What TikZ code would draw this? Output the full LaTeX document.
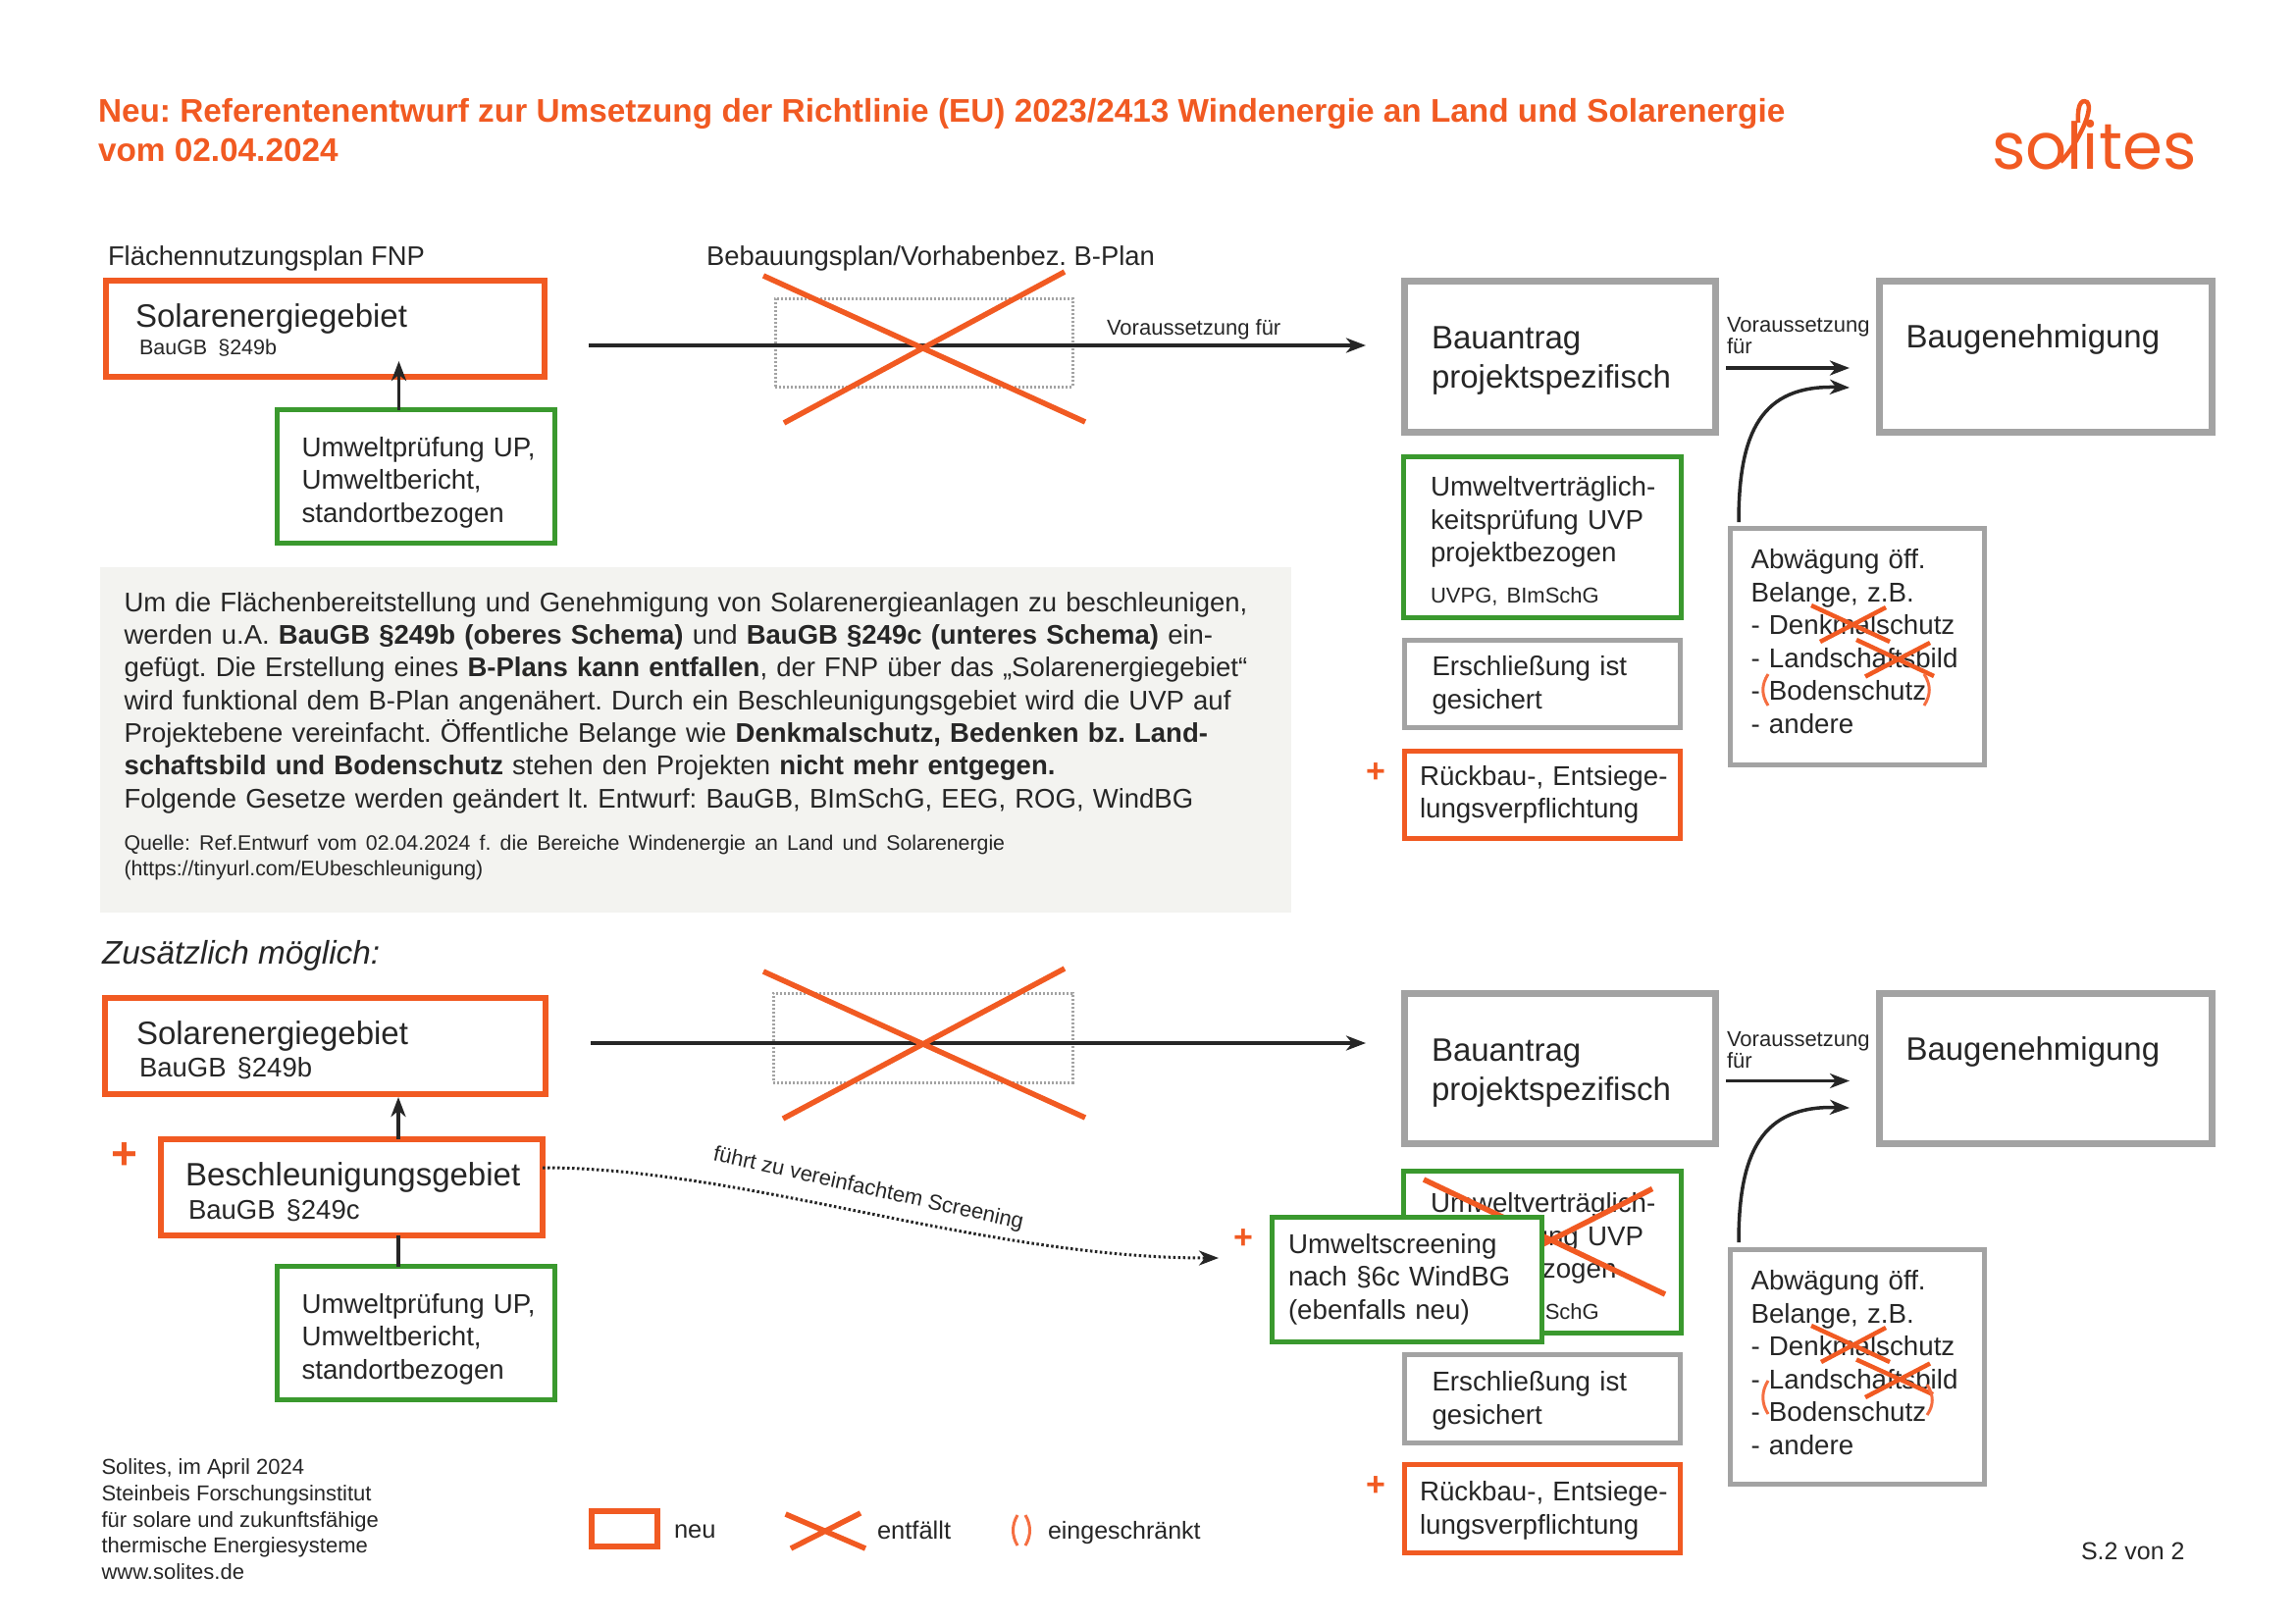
\documentclass[tikz,border=0pt]{standalone}
\usepackage{fontspec}
\usepackage{xcolor}
\usepackage{tikz}
\usetikzlibrary{positioning, arrows.meta}
\setmainfont{Liberation Sans}
\newfontfamily\logofont{Poppins}
\definecolor{neworange}{RGB}{241,90,34}
\definecolor{lightorange}{RGB}{245,110,65}
\definecolor{envgreen}{RGB}{58,153,46}
\definecolor{boxgray}{RGB}{163,163,163}
\definecolor{panelgray}{RGB}{243,243,240}
\definecolor{ink}{RGB}{38,38,38}
\frenchspacing

\begin{document}
\begin{tikzpicture}[x=1pt, y=-1pt, every node/.style={inner sep=0pt, outer sep=0pt, text=ink},
  dim/.style n args={4}{minimum width=#1, minimum height=#2, text width=#1, align=left, anchor=north west,
    execute at begin node={\leftskip=#3pt\relax},
    execute at end node={\endgraf\kern -#4pt\relax}},
  newbox/.style={draw=neworange, line width=6pt, font=\fontsize{33}{39}\selectfont},
  thinnew/.style={draw=neworange, line width=5pt, font=\fontsize{27.7}{33.5}\selectfont},
  envbox/.style={draw=envgreen, line width=5pt, font=\fontsize{27.7}{33.5}\selectfont},
  graybox/.style={draw=boxgray, line width=5pt, font=\fontsize{27.7}{33.5}\selectfont},
  bigbox/.style={draw=boxgray, line width=7pt, font=\fontsize{33}{40}\selectfont},
  ann/.style={anchor=base west, font=\fontsize{22}{22}\selectfont},
  head/.style={anchor=base west, font=\fontsize{27.4}{34}\selectfont},
  plus/.style={anchor=center, text=neworange, font=\fontsize{34}{34}\bfseries\selectfont},
  arrow/.style={-{Stealth[length=20pt, width=15pt, inset=6pt]}, ink, line width=3.5pt},
  noway/.style={neworange, line width=5.5pt},
  strike/.style={neworange, line width=4.5pt},
  bracket/.style={lightorange, line width=3pt},
  planbox/.style={draw=boxgray, line width=3pt, dash pattern=on 2pt off 2pt}]
\useasboundingbox (0,0) rectangle (2339,1654);

\node[anchor=north west, align=left, text=neworange, font=\fontsize{33.35}{40}\bfseries\selectfont] (title) at (100,100)
  {Neu: Referentenentwurf zur Umsetzung der Richtlinie (EU) 2023/2413 Windenergie an Land und Solarenergie\\vom 02.04.2024};
\node[anchor=base west, text=neworange, font=\logofont\fontsize{66}{66}\selectfont] (logo) at (2030,172) {solites};
\draw[neworange, line width=4.5pt] (2100,165) .. controls (2115,150) and (2135,112) .. (2127,104) .. controls (2120,100) and (2117,110) .. (2118,125);

\node[head] (fnp) at (110,270) {Flächennutzungsplan FNP};
\node[head] (bplan) at (720,270) {Bebauungsplan/Vorhabenbez. B-Plan};

\node[newbox, dim={447}{98}{30}{2}] (sol1) at (108,286) {Solarenergiegebiet\\[-11pt]\hspace*{4pt}{\fontsize{21.5}{26}\selectfont BauGB §249b}};
\node[envbox, dim={283}{136}{25}{12}] (up1) at (282.5,417.5) {Umweltprüfung UP,\\Umweltbericht,\\standortbezogen};
\node[planbox, minimum width=303, minimum height=90, anchor=north west] (plan1) at (790,304) {};
\node[bigbox, dim={317}{154}{28}{9}] (bau1) at (1431,286) {Bauantrag\\projektspezifisch};
\node[bigbox, dim={339}{154}{27}{0}] (gen1) at (1915.5,286) {Baugenehmigung\\~};
\node[envbox, dim={283}{164}{28}{7.5}] (uvp1) at (1430,465.5) {Umweltverträglich-\\keitsprüfung UVP\\projektbezogen\\[8pt]{\fontsize{22}{26}\selectfont UVPG, BImSchG}};
\node[graybox, dim={281}{89}{28}{3}] (ers1) at (1431.5,652.5) {Erschließung ist\\gesichert};
\node[thinnew, dim={281}{89}{15.5}{0}] (rue1) at (1431.5,765.5) {Rückbau-, Entsiege-\\lungsverpflichtung};
\node[graybox, dim={259}{240.5}{21}{-10}] (abw1) at (1763.5,538.5) {Abwägung öff.\\Belange, z.B.\\- Denkmalschutz\\- Landschaftsbild\\- Bodenschutz\\- andere};
\node[plus] (plus1) at (1402,788) {+};

\coordinate (t1) at (406.5,368);
\coordinate (l1) at (940,352);
\coordinate (v1) at (1759,375);
\coordinate (c1) at (1772,532);
\coordinate (g1) at (1885,395);
\draw[arrow] (up1.north -| t1) -- (t1);
\draw[arrow, shorten <=45pt, shorten >=39pt] (sol1.east |- l1) -- (bau1.west |- l1);
\draw[arrow, shorten <=11pt, shorten >=30.5pt] (bau1.east |- v1) -- (gen1.west |- v1);
\draw[arrow] (c1) .. controls (1772,440) and (1795,392) .. (g1);
\node[ann] (vor1) at (1128,341) {Voraussetzung für};
\node[ann, align=left, anchor=north west] (vor2) at (1760,323.5) {Voraussetzung\\für};

\draw[noway] (778,281) -- (1106,430) (799,431) -- (1085,277);
\draw[strike] (1846,617) -- (1926,654) (1922,619) -- (1855,654);
\draw[strike] (1892,652) -- (1971,689) (1967,655) -- (1901,689.5);
\draw[bracket] (1802,687) .. controls (1795,698) and (1795,708) .. (1802,719);
\draw[bracket] (1961,687) .. controls (1968,698) and (1968,708) .. (1961,719);

\node[fill=panelgray, dim={1214}{352}{25}{-7.5}, font=\fontsize{27.5}{33.3}\selectfont] (panel) at (101.5,578)
  {Um die Flächenbereitstellung und Genehmigung von Solarenergieanlagen zu beschleunigen,\\
   werden u.A. \textbf{BauGB §249b (oberes Schema)} und \textbf{BauGB §249c (unteres Schema)} ein-\\
   gefügt. Die Erstellung eines \textbf{B-Plans kann entfallen}, der FNP über das „Solarenergiegebiet“\\
   wird funktional dem B-Plan angenähert. Durch ein Beschleunigungsgebiet wird die UVP auf\\
   Projektebene vereinfacht. Öffentliche Belange wie \textbf{Denkmalschutz, Bedenken bz. Land-}\\
   \textbf{schaftsbild und Bodenschutz} stehen den Projekten \textbf{nicht mehr entgegen.}\\
   Folgende Gesetze werden geändert lt. Entwurf: BauGB, BImSchG, EEG, ROG, WindBG\\[16.5pt]
   {\fontsize{21.3}{26.5}\selectfont Quelle: Ref.Entwurf vom 02.04.2024 f. die Bereiche Windenergie an Land und Solarenergie\\
   (https://tinyurl.com/EUbeschleunigung)\par}};

\node[head, font=\fontsize{33.3}{38}\itshape\selectfont] (extra) at (104,982) {Zusätzlich möglich:};
\node[newbox, dim={449}{98}{32}{7.5}] (sol2) at (107,1017) {Solarenergiegebiet\\[-6pt]\hspace*{3pt}{\fontsize{27.5}{33}\selectfont BauGB §249b}};
\node[newbox, dim={389}{98}{25}{9}] (bes) at (164,1161) {Beschleunigungsgebiet\\[-5pt]\hspace*{3pt}{\fontsize{27.5}{33}\selectfont BauGB §249c}};
\node[envbox, dim={283}{136}{25}{12}] (up2) at (282.5,1290.5) {Umweltprüfung UP,\\Umweltbericht,\\standortbezogen};
\node[planbox, minimum width=305, minimum height=91, anchor=north west] (plan2) at (788,1012) {};
\node[bigbox, dim={317}{152.5}{28}{9}] (bau2) at (1431,1012.5) {Bauantrag\\projektspezifisch};
\node[bigbox, dim={339}{152.5}{27}{0}] (gen2) at (1915.5,1012.5) {Baugenehmigung\\~};
\node[envbox, dim={283}{165}{28}{12}] (uvp2) at (1430,1193) {Umweltverträglich-\\keitsprüfung UVP\\projektbezogen\\[8pt]{\fontsize{22}{26}\selectfont UVPG, BImSchG}};
\node[graybox, dim={281}{89.5}{28}{4.5}] (ers2) at (1431.5,1380.5) {Erschließung ist\\gesichert};
\node[thinnew, dim={281}{90}{15.5}{4}] (rue2) at (1431.5,1492.5) {Rückbau-, Entsiege-\\lungsverpflichtung};
\node[graybox, dim={259}{239}{21}{-9}] (abw2) at (1763.5,1273.5) {Abwägung öff.\\Belange, z.B.\\- Denkmalschutz\\- Landschaftsbild\\- Bodenschutz\\- andere};
\draw[noway] (1451,1202) -- (1697,1319) (1684,1211.5) -- (1460,1325);
\node[envbox, fill=white, dim={275}{127}{17}{-1}] (scr) at (1296,1240.5) {Umweltscreening\\nach §6c WindBG\\(ebenfalls neu)};
\node[plus] (plus2) at (1402,1515) {+};
\node[plus] (plus3) at (1267,1263) {+};
\node[plus, font=\fontsize{46}{46}\bfseries\selectfont] (plus4) at (126.5,1178) {+};

\coordinate (t2) at (406,1118);
\coordinate (l2) at (940,1063);
\coordinate (v2) at (1759,1101.5);
\coordinate (c2) at (1772,1266);
\coordinate (g2) at (1885,1129);
\coordinate (d1) at (1242,1282);
\draw[arrow] (bes.north -| t2) -- (t2);
\draw[ink, line width=3.5pt] (bes.south -| t2) -- (up2.north -| t2);
\draw[arrow, shorten <=46pt, shorten >=39pt] (sol2.east |- l2) -- (bau2.west |- l2);
\draw[arrow, line width=3pt, shorten <=11pt, shorten >=30.5pt] (bau2.east |- v2) -- (gen2.west |- v2);
\draw[arrow] (c2) .. controls (1772,1175) and (1795,1126) .. (g2);
\draw[arrow, line width=3pt, dash pattern=on 2.5pt off 2.5pt] (bes.east |- 0,1190) .. controls (760,1190) and (1000,1282) .. (d1);
\node[anchor=center, rotate=-12.5, font=\fontsize{22}{26}\selectfont] (lead) at (885,1212) {führt zu vereinfachtem Screening};
\node[ann, align=left, anchor=north west] (vor3) at (1760,1051) {Voraussetzung\\für};

\draw[noway] (778,990) -- (1106,1139) (798,1140) -- (1085,987);
\draw[strike] (1846,1351) -- (1926,1388) (1922,1353) -- (1856,1388);
\draw[strike] (1892,1385.5) -- (1970,1421) (1967,1389.5) -- (1901,1424);
\draw[bracket] (1802,1407) .. controls (1795,1418) and (1795,1430) .. (1802,1441);
\draw[bracket] (1964,1411) .. controls (1971,1422) and (1971,1432) .. (1964,1442);

\node[anchor=north west, align=left, font=\fontsize{22}{26.6}\selectfont] (addr) at (103.5,1487)
  {Solites, im April 2024\\Steinbeis Forschungsinstitut\\für solare und zukunftsfähige\\thermische Energiesysteme\\www.solites.de};
\node[draw=neworange, line width=6pt, minimum width=67, minimum height=36, anchor=north west] (keynew) at (603,1540) {};
\node[ann, font=\fontsize{25.5}{30}\selectfont] (keynewt) at (687,1567) {neu};
\draw[noway] (800.6,1543) -- (882,1578) (877,1542) -- (806,1578);
\node[ann, font=\fontsize{25.5}{30}\selectfont] (keyx) at (894,1568) {entfällt};
\draw[bracket] (1037,1544) .. controls (1031,1554) and (1031,1565) .. (1037,1575);
\draw[bracket] (1045,1544) .. controls (1051,1554) and (1051,1565) .. (1045,1575);
\node[ann, font=\fontsize{25}{30}\selectfont] (keybr) at (1068,1568) {eingeschränkt};
\node[ann, font=\fontsize{25}{30}\selectfont] (page) at (2121,1589) {S.2 von 2};
\end{tikzpicture}
\end{document}
